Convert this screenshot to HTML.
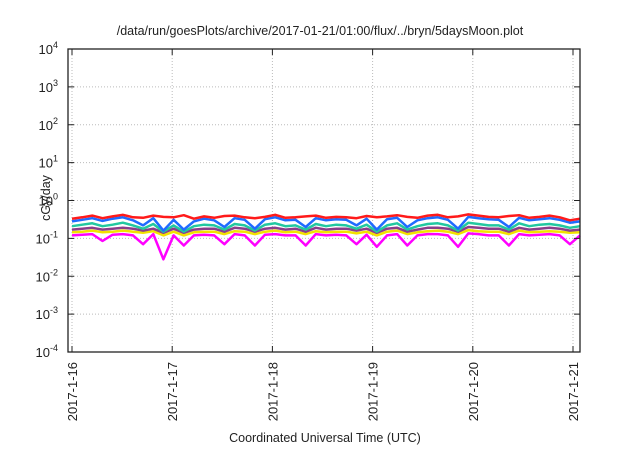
<!DOCTYPE html>
<html><head><meta charset="utf-8"><style>
body{margin:0;background:#fff;font-family:"Liberation Sans",sans-serif}
svg text{font-family:"Liberation Sans",sans-serif;fill:#222}
</style></head><body>
<svg id="c" width="640" height="448">
<text x="320" y="35" text-anchor="middle" font-size="12.5">/data/run/goesPlots/archive/2017-01-21/01:00/flux/../bryn/5daysMoon.plot</text>
<text x="325" y="442" text-anchor="middle" font-size="12.5">Coordinated Universal Time (UTC)</text>
<text transform="translate(50,198) rotate(-90)" text-anchor="middle" font-size="12.5">cGy/day</text>
<g id="grid"></g><g id="series"></g><g id="axes"></g>
</svg>
<script>
const xTicks=["2017-1-16","2017-1-17","2017-1-18","2017-1-19","2017-1-20","2017-1-21"];
const yExps=[-4,-3,-2,-1,0,1,2,3,4];
const red=[0.33,0.36,0.40,0.34,0.38,0.42,0.36,0.35,0.40,0.37,0.36,0.41,0.33,0.38,0.35,0.39,0.40,0.36,0.34,0.37,0.42,0.35,0.36,0.38,0.40,0.35,0.37,0.36,0.34,0.39,0.36,0.38,0.41,0.37,0.35,0.40,0.42,0.36,0.38,0.43,0.40,0.37,0.36,0.39,0.41,0.35,0.37,0.40,0.36,0.30,0.33];
const blue=[0.28,0.31,0.34,0.29,0.33,0.36,0.30,0.22,0.34,0.16,0.31,0.17,0.28,0.33,0.30,0.20,0.34,0.31,0.18,0.32,0.36,0.30,0.31,0.20,0.34,0.30,0.32,0.31,0.22,0.33,0.17,0.32,0.35,0.20,0.30,0.34,0.36,0.31,0.18,0.37,0.34,0.32,0.31,0.20,0.35,0.30,0.32,0.34,0.31,0.26,0.28];
const teal=[0.21,0.23,0.25,0.21,0.23,0.26,0.22,0.18,0.24,0.15,0.22,0.15,0.21,0.23,0.22,0.17,0.24,0.22,0.16,0.23,0.25,0.21,0.22,0.17,0.24,0.21,0.23,0.22,0.18,0.23,0.15,0.22,0.25,0.17,0.21,0.24,0.25,0.22,0.16,0.26,0.24,0.22,0.22,0.17,0.25,0.21,0.23,0.24,0.22,0.19,0.21];
const purple=[0.17,0.18,0.19,0.17,0.18,0.19,0.18,0.16,0.18,0.14,0.18,0.14,0.17,0.18,0.18,0.15,0.19,0.18,0.15,0.18,0.19,0.17,0.18,0.15,0.19,0.17,0.18,0.18,0.16,0.18,0.14,0.18,0.19,0.15,0.17,0.19,0.19,0.18,0.15,0.20,0.19,0.18,0.18,0.15,0.19,0.17,0.18,0.19,0.18,0.16,0.17];
const yellow=[0.145,0.15,0.16,0.145,0.15,0.16,0.15,0.14,0.155,0.12,0.15,0.12,0.145,0.15,0.15,0.13,0.155,0.15,0.13,0.15,0.16,0.145,0.15,0.13,0.155,0.145,0.15,0.15,0.135,0.15,0.12,0.15,0.16,0.13,0.145,0.155,0.16,0.15,0.13,0.165,0.155,0.15,0.15,0.13,0.16,0.145,0.15,0.155,0.15,0.14,0.145];
const magenta=[0.12,0.125,0.13,0.085,0.125,0.13,0.12,0.07,0.13,0.028,0.12,0.065,0.12,0.125,0.12,0.07,0.13,0.12,0.065,0.125,0.13,0.12,0.12,0.065,0.13,0.12,0.125,0.12,0.07,0.125,0.06,0.12,0.13,0.065,0.12,0.13,0.13,0.12,0.06,0.135,0.13,0.12,0.12,0.065,0.13,0.12,0.125,0.13,0.12,0.07,0.12];
const L=68,R=580,T=49,B=352;
const X=d=>72+100.2*d;
const Y=v=>T+(4-Math.log10(v))*(B-T)/8;
const NS="http://www.w3.org/2000/svg";
function mk(p,tag,a){const e=document.createElementNS(NS,tag);for(const k in a)e.setAttribute(k,a[k]);p.appendChild(e);return e;}
const grid=document.getElementById('grid'),axes=document.getElementById('axes'),ser=document.getElementById('series');
yExps.forEach(e=>{const y=Y(Math.pow(10,e));
 if(e>-4&&e<4){const g=mk(grid,'line',{x1:L,x2:R,y1:y,y2:y,stroke:'#bbb','stroke-dasharray':'1,2'});
 
 }
 mk(axes,'line',{x1:L,x2:L+6,y1:y,y2:y,stroke:'#222'});
 mk(axes,'line',{x1:R,x2:R-6,y1:y,y2:y,stroke:'#222'});
 const t=mk(axes,'text',{x:L-10,y:y+5,'text-anchor':'end','font-size':'13'});
 
 
 t.textContent='10';const s=mk(t,'tspan',{dy:-6,'font-size':'9'});s.textContent=String(e);
});
xTicks.forEach((lab,i)=>{const x=X(i);
 const g=mk(grid,'line',{x1:x,x2:x,y1:T,y2:B,stroke:'#bbb','stroke-dasharray':'1,2'});
 
 
 mk(axes,'line',{x1:x,x2:x,y1:B,y2:B-6,stroke:'#222'});
 mk(axes,'line',{x1:x,x2:x,y1:T,y2:T+6,stroke:'#222'});
 const t=mk(axes,'text',{transform:`translate(${x+5},${B+10}) rotate(-90)`,'text-anchor':'end','font-size':'13'});
 
 
 t.textContent=lab;
});
const fr=mk(axes,'rect',{x:L,y:T,width:R-L,height:B-T,fill:'none',stroke:'#222','stroke-width':1.3});


const list=[[magenta,'#ff00ff','magenta'],[yellow,'#f2e200','yellow'],[purple,'#8a3f8a','purple'],[teal,'#22c8a0','teal'],[blue,'#1f6bff','blue'],[red,'#ff1a1a','red']];
list.forEach(([arr,col,nm])=>{
 const pts=arr.map((v,i)=>X(i*5.07/(arr.length-1)).toFixed(1)+','+Y(v).toFixed(1)).join(' ');
 const p=mk(ser,'polyline',{points:pts,fill:'none',stroke:col,'stroke-width':2.5,'stroke-linejoin':'round'});
 
 
});
</script>
</body></html>
